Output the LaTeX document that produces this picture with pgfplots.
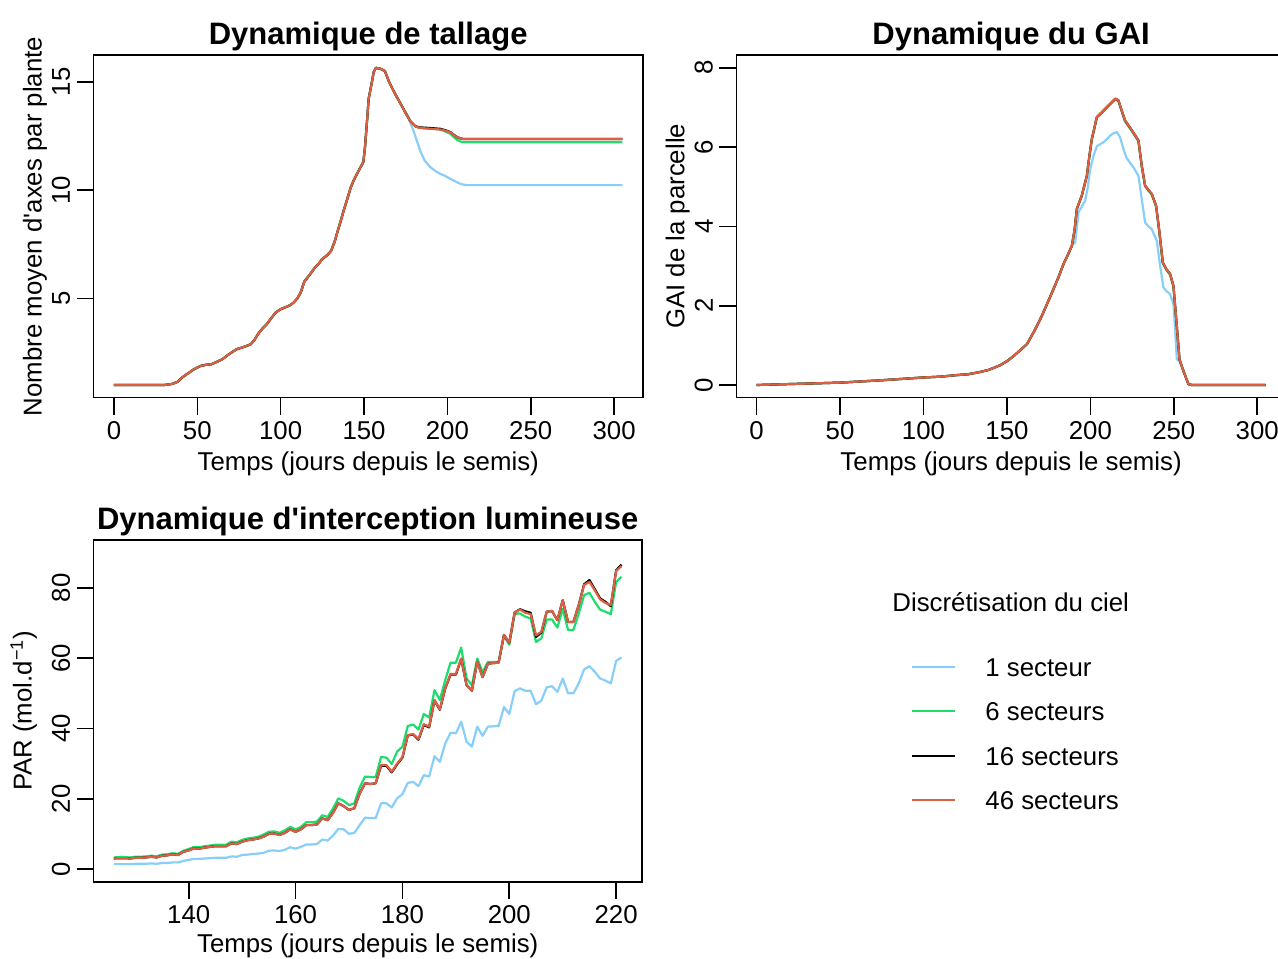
\documentclass[border=0pt]{standalone}
\usepackage{fontspec}
\setmainfont{Liberation Sans}
\newfontfamily\nm{Liberation Sans}
\usepackage{pgfplots}
\usepackage{pgfplotstable}
\pgfplotsset{compat=1.18}
\definecolor{cb}{RGB}{135,206,250}
\definecolor{cg}{RGB}{30,220,110}
\definecolor{cr}{RGB}{220,95,65}
\newcommand{\ap}{{\nm'}}

\pgfplotstableread{
day b g k r
126 1.4 3.3 3.0 3.0
127 1.4 3.4 3.1 3.1
128 1.4 3.4 3.1 3.1
129 1.4 3.3 3.0 3.0
130 1.5 3.5 3.2 3.2
131 1.5 3.5 3.2 3.2
132 1.5 3.6 3.3 3.3
133 1.6 3.8 3.5 3.5
134 1.5 3.6 3.3 3.3
135 1.7 4.1 3.8 3.8
136 1.7 4.2 3.9 3.9
137 1.9 4.5 4.2 4.2
138 1.9 4.3 4.0 4.0
139 2.3 5.2 4.9 4.9
140 2.6 5.7 5.3 5.3
141 2.9 6.3 5.9 5.9
142 2.9 6.2 5.8 5.8
143 3.0 6.5 6.1 6.1
144 3.1 6.7 6.3 6.3
145 3.2 6.9 6.5 6.5
146 3.2 6.9 6.5 6.5
147 3.2 6.9 6.5 6.5
148 3.6 7.8 7.3 7.3
149 3.5 7.6 7.1 7.1
150 4.0 8.3 7.8 7.8
151 4.1 8.7 8.2 8.2
152 4.3 8.9 8.4 8.4
153 4.4 9.2 8.7 8.7
154 4.6 9.8 9.2 9.2
155 5.2 10.6 10.0 10.0
156 5.3 10.7 10.1 10.1
157 5.1 10.3 9.7 9.7
158 5.5 11.0 10.3 10.3
159 6.2 12.0 11.3 11.3
160 5.8 11.3 10.6 10.6
161 6.3 12.0 11.3 11.3
162 7.0 13.3 12.5 12.5
163 7.0 13.3 12.5 12.5
164 7.1 13.5 12.7 12.7
165 8.4 15.3 14.4 14.4
166 8.1 14.8 13.9 13.9
167 9.5 17.2 16.0 16.0
168 11.4 20.1 18.7 18.7
169 11.3 19.4 17.9 17.9
170 10.0 18.2 16.8 16.8
171 10.3 18.7 17.3 17.3
172 12.5 23.2 21.5 21.5
173 14.6 26.3 24.4 24.4
174 14.5 26.2 24.2 24.2
175 14.5 26.2 24.4 24.4
176 18.7 31.9 29.4 29.6
177 18.7 31.7 29.4 29.6
178 17.5 29.9 27.5 27.7
179 20.1 33.4 29.8 30.0
180 21.3 34.8 31.7 31.9
181 24.5 40.7 38.0 38.1
182 24.8 41.1 38.3 38.4
183 23.6 39.7 36.8 37.0
184 26.7 44.1 41.0 41.2
185 26.3 43.1 40.3 40.5
186 32.1 50.9 48.0 48.1
187 30.5 48.1 45.3 45.4
188 35.7 53.7 51.3 51.4
189 38.8 58.7 55.3 55.5
190 38.6 58.7 55.3 55.5
191 41.9 63.0 59.8 59.9
192 36.2 54.2 52.3 52.3
193 34.8 52.3 50.7 50.7
194 40.5 59.9 59.0 59.0
195 37.9 56.0 54.6 54.6
196 40.5 58.9 58.4 58.4
197 40.6 58.9 58.6 58.6
198 40.7 58.9 58.7 58.7
199 46.1 66.4 66.6 66.6
200 44.1 63.8 64.4 64.4
201 50.6 72.6 73.0 73.0
202 51.4 72.7 73.9 73.8
203 50.7 71.8 73.3 72.9
204 50.7 71.3 72.9 72.5
205 46.9 64.6 66.0 66.5
206 47.9 65.6 67.3 67.5
207 51.7 71.0 73.2 73.2
208 52.0 71.0 73.4 73.4
209 50.4 68.7 70.8 70.8
210 54.2 74.0 76.5 76.5
211 50.0 68.0 70.3 70.3
212 50.0 68.0 70.3 70.3
213 52.8 72.7 75.1 75.1
214 56.8 77.9 81.0 80.8
215 57.7 78.6 82.2 81.7
216 56.1 76.0 79.6 79.3
217 54.2 73.8 77.0 76.7
218 53.6 73.2 76.0 75.7
219 52.8 72.5 74.8 75.1
220 59.2 81.7 85.0 84.8
221 60.2 83.1 86.6 86.2
}\partable

\pgfplotsset{
  rbase/.style={
    scale only axis,
    axis line style={line width=0.8pt},
    tick align=outside, major tick length=8.5pt,
    tick style={line width=0.8pt, black},
    xtick pos=bottom, ytick pos=left,
    /pgf/number format/assume math mode=true,
    tick label style={font=\fontsize{12.9}{15}\selectfont},
    xticklabel style={anchor=north, inner sep=0pt, yshift=-3pt},
    yticklabel style={xshift=-3pt, rotate=90, anchor=south, inner sep=0pt},
    every axis x label/.style={at={(axis description cs:0.5,0)}, yshift=-36.5pt, anchor=base, inner sep=0pt, font=\fontsize{12.9}{15}\selectfont},
    every axis y label/.style={at={(axis description cs:0,0.5)}, xshift=-26pt, rotate=90, anchor=base, inner sep=0pt, font=\fontsize{12.9}{15}\selectfont},
    every axis title/.style={at={(axis description cs:0.5,1)}, yshift=5.5pt, anchor=base, inner sep=0pt, font=\fontsize{15.5}{18}\selectfont\bfseries},
    every axis plot/.append style={line width=1.1pt, mark=none, line join=round},
  }
}

\begin{document}
\begin{tikzpicture}
\useasboundingbox (0,0) rectangle (639pt,479pt);
% ---------------- Tallage
\begin{axis}[rbase, at={(46.8pt,280.15pt)}, anchor=south west,
  width=274.6pt, height=171.3pt,
  xmin=-12.2, xmax=317.2, ymin=0.414, ymax=16.236,
  xtick={0,50,...,300}, ytick={5,10,15},
  title={Dynamique de tallage},
  xlabel={Temps (jours depuis le semis)},
  ylabel={Nombre moyen d\ap axes par plante}]
\addplot[cb] coordinates {(0,1.0) (30,1.0) (35,1.05) (38,1.14) (41,1.35) (43.5,1.49) (46,1.62) (47.8,1.72) (52,1.88) (55,1.93) (58.5,1.96) (62,2.08) (65,2.19) (69,2.42) (73.5,2.65) (78,2.76) (82,2.88) (84,3.05) (86.4,3.35) (89,3.6) (91.7,3.81) (94,4.05) (97,4.35) (100,4.5) (103.5,4.61) (106,4.7) (107.8,4.81) (110,5.0) (112,5.27) (114.2,5.78) (117,6.05) (120.6,6.43) (123,6.62) (125,6.82) (128,7.0) (130.3,7.2) (132.5,7.65) (134.6,8.21) (136.5,8.7) (137.8,9.06) (140,9.6) (142.1,10.14) (143.8,10.45) (145.3,10.68) (147.5,11.0) (149.6,11.3) (150.6,12.0) (151.6,13.0) (152.8,14.23) (154.5,14.9) (155.8,15.45) (157.1,15.65) (160,15.6) (162.5,15.5) (165,15.0) (167.8,14.57) (170,14.25) (172.8,13.87) (174.5,13.65) (175.9,13.49) (177.8,13.1) (179.8,12.71) (181.8,12.25) (183.8,11.79) (186.5,11.35) (189.8,11.06) (192.8,10.88) (195.8,10.75) (198.8,10.65) (201.8,10.52) (204.8,10.4) (207.8,10.29) (210,10.25) (211.8,10.23) (305,10.23)};
\addplot[cg] coordinates {(0,1.0) (30,1.0) (35,1.05) (38,1.14) (41,1.35) (43.5,1.49) (46,1.62) (47.8,1.72) (52,1.88) (55,1.93) (58.5,1.96) (62,2.08) (65,2.19) (69,2.42) (73.5,2.65) (78,2.76) (82,2.88) (84,3.05) (86.4,3.35) (89,3.6) (91.7,3.81) (94,4.05) (97,4.35) (100,4.5) (103.5,4.61) (106,4.7) (107.8,4.81) (110,5.0) (112,5.27) (114.2,5.78) (117,6.05) (120.6,6.43) (123,6.62) (125,6.82) (128,7.0) (130.3,7.2) (132.5,7.65) (134.6,8.21) (136.5,8.7) (137.8,9.06) (140,9.6) (142.1,10.14) (143.8,10.45) (145.3,10.68) (147.5,11.0) (149.6,11.3) (150.6,12.0) (151.6,13.0) (152.8,14.23) (154.5,14.9) (155.8,15.45) (157.1,15.65) (160,15.6) (162.5,15.5) (165,15.0) (167.8,14.57) (170,14.25) (172.8,13.87) (175,13.55) (177.8,13.18) (180.8,12.95) (183,12.88) (187,12.85) (191,12.83) (195.8,12.8) (199,12.7) (201.8,12.6) (203.8,12.45) (205.8,12.32) (208,12.24) (210.5,12.21) (305,12.21)};
\addplot[black] coordinates {(0,1.0) (30,1.0) (35,1.05) (38,1.14) (41,1.35) (43.5,1.49) (46,1.62) (47.8,1.72) (52,1.88) (55,1.93) (58.5,1.96) (62,2.08) (65,2.19) (69,2.42) (73.5,2.65) (78,2.76) (82,2.88) (84,3.05) (86.4,3.35) (89,3.6) (91.7,3.81) (94,4.05) (97,4.35) (100,4.5) (103.5,4.61) (106,4.7) (107.8,4.81) (110,5.0) (112,5.27) (114.2,5.78) (117,6.05) (120.6,6.43) (123,6.62) (125,6.82) (128,7.0) (130.3,7.2) (132.5,7.65) (134.6,8.21) (136.5,8.7) (137.8,9.06) (140,9.6) (142.1,10.14) (143.8,10.45) (145.3,10.68) (147.5,11.0) (149.6,11.3) (150.6,12.0) (151.6,13.0) (152.8,14.23) (154.5,14.9) (155.8,15.45) (157.1,15.65) (160,15.6) (162.5,15.5) (165,15.0) (167.8,14.57) (170,14.25) (172.8,13.87) (175,13.55) (177.8,13.18) (180.8,12.95) (183,12.9) (187,12.88) (191,12.86) (195.8,12.83) (199,12.76) (201.8,12.68) (203.8,12.56) (205.8,12.45) (207.8,12.39) (209.8,12.36) (305,12.36)};
\addplot[cr] coordinates {(0,1.0) (30,1.0) (35,1.05) (38,1.14) (41,1.35) (43.5,1.49) (46,1.62) (47.8,1.72) (52,1.88) (55,1.93) (58.5,1.96) (62,2.08) (65,2.19) (69,2.42) (73.5,2.65) (78,2.76) (82,2.88) (84,3.05) (86.4,3.35) (89,3.6) (91.7,3.81) (94,4.05) (97,4.35) (100,4.5) (103.5,4.61) (106,4.7) (107.8,4.81) (110,5.0) (112,5.27) (114.2,5.78) (117,6.05) (120.6,6.43) (123,6.62) (125,6.82) (128,7.0) (130.3,7.2) (132.5,7.65) (134.6,8.21) (136.5,8.7) (137.8,9.06) (140,9.6) (142.1,10.14) (143.8,10.45) (145.3,10.68) (147.5,11.0) (149.6,11.3) (150.6,12.0) (151.6,13.0) (152.8,14.23) (154.5,14.9) (155.8,15.45) (157.1,15.65) (160,15.6) (162.5,15.5) (165,15.0) (167.8,14.57) (170,14.25) (172.8,13.87) (175,13.55) (177.8,13.18) (180.8,12.95) (183,12.88) (187,12.85) (191,12.83) (195.8,12.8) (199,12.74) (201.8,12.67) (203.8,12.55) (205.8,12.45) (207.8,12.39) (209.8,12.36) (305,12.36)};
\end{axis}
% ---------------- GAI
\begin{axis}[rbase, at={(368.15pt,280.15pt)}, anchor=south west,
  width=274.8pt, height=171.3pt,
  xmin=-12.2, xmax=317.2, ymin=-0.32, ymax=8.32,
  xtick={0,50,...,300}, ytick={0,2,4,6,8},
  title={Dynamique du GAI},
  xlabel={Temps (jours depuis le semis)},
  ylabel={GAI de la parcelle}]
\addplot[cb] coordinates {(0,0) (25,0.03) (50,0.06) (75,0.12) (100,0.19) (110,0.21) (120,0.25) (126.6,0.27) (133,0.32) (139,0.38) (146,0.5) (150,0.6) (154,0.73) (158,0.88) (162,1.03) (166,1.33) (170,1.66) (174,2.04) (177.9,2.42) (181,2.73) (183.9,3.05) (186.5,3.28) (188.9,3.51) (190.9,3.6) (192.9,4.36) (194.9,4.5) (196.9,4.65) (198.5,5.0) (199.9,5.45) (202,5.8) (203.9,6.02) (205.8,6.07) (207.8,6.12) (209.9,6.2) (211.9,6.29) (214,6.35) (215.9,6.38) (217.8,6.25) (219.5,6.0) (221.4,5.75) (223.5,5.62) (225.8,5.49) (228.8,5.28) (230.8,4.69) (232.8,4.1) (234.8,4.0) (236.8,3.93) (239.8,3.64) (241.8,3.01) (243.8,2.46) (245.8,2.36) (247.8,2.29) (249.8,2.04) (250.8,1.4) (251.8,0.65) (253.4,0.6) (255.8,0.35) (258.8,0.02) (260.8,0) (305,0)};
\addplot[cg] coordinates {(0,0) (25,0.03) (50,0.06) (75,0.12) (100,0.19) (110,0.21) (120,0.25) (126.6,0.27) (133,0.32) (139,0.38) (146,0.5) (150,0.6) (154,0.73) (158,0.88) (162,1.03) (166,1.33) (170,1.66) (174,2.04) (177.9,2.42) (181,2.73) (183.9,3.05) (186.5,3.28) (188.9,3.51) (190.5,3.9) (191.9,4.44) (194.9,4.78) (197.9,5.28) (199.5,5.8) (200.9,6.19) (203.9,6.74) (206.9,6.86) (209.9,6.99) (212.5,7.1) (214.9,7.2) (216.8,7.16) (218.8,6.9) (220.8,6.65) (224.9,6.4) (228.8,6.15) (230.8,5.51) (232.8,5.01) (234.8,4.9) (236.8,4.8) (239.4,4.5) (241.4,3.83) (243.4,3.07) (245.6,2.9) (247.8,2.78) (249.8,2.48) (251.8,1.49) (253.4,0.65) (255.8,0.35) (258.8,0.02) (260.8,0) (305,0)};
\addplot[black] coordinates {(0,0) (25,0.03) (50,0.06) (75,0.12) (100,0.19) (110,0.21) (120,0.25) (126.6,0.27) (133,0.32) (139,0.38) (146,0.5) (150,0.6) (154,0.73) (158,0.88) (162,1.03) (166,1.33) (170,1.66) (174,2.04) (177.9,2.42) (181,2.73) (183.9,3.05) (186.5,3.28) (188.9,3.51) (190.5,3.9) (191.9,4.44) (194.9,4.78) (197.9,5.28) (199.5,5.8) (200.9,6.21) (203.9,6.76) (206.9,6.88) (209.9,7.01) (212.5,7.12) (214.9,7.22) (216.8,7.18) (218.8,6.92) (220.8,6.67) (224.9,6.42) (228.8,6.17) (230.8,5.53) (232.8,5.03) (234.8,4.92) (236.8,4.82) (239.4,4.52) (241.4,3.85) (243.4,3.09) (245.6,2.92) (247.8,2.8) (249.8,2.5) (251.8,1.49) (253.4,0.65) (255.8,0.35) (258.8,0.02) (260.8,0) (305,0)};
\addplot[cr] coordinates {(0,0) (25,0.03) (50,0.06) (75,0.12) (100,0.19) (110,0.21) (120,0.25) (126.6,0.27) (133,0.32) (139,0.38) (146,0.5) (150,0.6) (154,0.73) (158,0.88) (162,1.03) (166,1.33) (170,1.66) (174,2.04) (177.9,2.42) (181,2.73) (183.9,3.05) (186.5,3.28) (188.9,3.51) (190.5,3.9) (191.9,4.44) (194.9,4.78) (197.9,5.28) (199.5,5.8) (200.9,6.21) (203.9,6.76) (206.9,6.88) (209.9,7.01) (212.5,7.12) (214.9,7.22) (216.8,7.18) (218.8,6.92) (220.8,6.67) (224.9,6.42) (228.8,6.17) (230.8,5.53) (232.8,5.03) (234.8,4.92) (236.8,4.82) (239.4,4.52) (241.4,3.85) (243.4,3.09) (245.6,2.92) (247.8,2.8) (249.8,2.5) (251.8,1.49) (253.4,0.65) (255.8,0.35) (258.8,0.02) (260.8,0) (305,0)};
\end{axis}
% ---------------- PAR
\begin{axis}[rbase, at={(46.8pt,38.15pt)}, anchor=south west,
  width=274.1pt, height=170.85pt,
  xmin=122.2, xmax=224.8, ymin=-3.6, ymax=93.6,
  xtick={140,160,...,220}, ytick={0,20,...,80},
  title={Dynamique d\ap interception lumineuse},
  xlabel={Temps (jours depuis le semis)},
  ylabel={PAR (mol.d\textsuperscript{−1})},
  every axis x label/.append style={yshift=1pt},
  every axis y label/.style={at={(axis description cs:0,0.5)}, xshift=-31pt, rotate=90, anchor=base, inner sep=0pt, font=\fontsize{12.9}{15}\selectfont}]
\addplot[cb] table[x=day,y=b] {\partable};
\addplot[cg] table[x=day,y=g] {\partable};
\addplot[black] table[x=day,y=k] {\partable};
\addplot[cr] table[x=day,y=r] {\partable};
\end{axis}
% ---------------- Legend
\begin{scope}[every node/.style={inner sep=0pt, font=\fontsize{12.9}{15}\selectfont}]
\node[anchor=base west] at (446pt,173.4pt) {Discrétisation du ciel};
\draw[cb, line width=1.1pt] (456pt,145.5pt) -- (477.5pt,145.5pt);
\node[anchor=base west] at (492.5pt,140.9pt) {1 secteur};
\draw[cg, line width=1.1pt] (456pt,123.5pt) -- (477.5pt,123.5pt);
\node[anchor=base west] at (492.5pt,118.9pt) {6 secteurs};
\draw[black, line width=1.1pt] (456pt,101pt) -- (477.5pt,101pt);
\node[anchor=base west] at (492.5pt,96.4pt) {16 secteurs};
\draw[cr, line width=1.1pt] (456pt,79pt) -- (477.5pt,79pt);
\node[anchor=base west] at (492.5pt,74.4pt) {46 secteurs};
\end{scope}
\end{tikzpicture}
\end{document}
